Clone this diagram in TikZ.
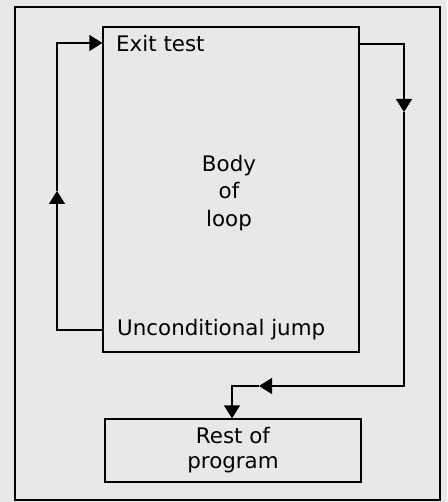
\documentclass[tikz,border=0pt]{standalone}
\usepackage{fontspec}
\setmainfont{DejaVu Sans}
\usetikzlibrary{arrows.meta,positioning}
\tikzstyle{box} = [rectangle, draw, line width=1.3pt, inner sep=0pt]
\tikzstyle{flow} = [draw, line width=1.3pt]
\tikzstyle{tip} = [-{Triangle[length=13pt,width=16pt]}]

\begin{document}
\begin{tikzpicture}[x=1pt,y=-1pt,font=\fontsize{21.4}{27.5}\selectfont]
  % background and frame
  \fill[black!9] (0,0) rectangle (447,502);
  \draw[line width=1.3pt] (15,7) rectangle (440,500);
  % Place boxes
  \node [box, minimum width=256pt, minimum height=325pt] (body) at (231,189.5) {};
  \node [box, minimum width=256pt, minimum height=63pt] (rest) at (233,450.5) {};
  % Place texts
  \node [anchor=west, inner sep=0pt] (exit) at (116,44) {Exit test};
  \node [align=center, inner sep=0pt] (loop) at (229,193) {Body\\of\\loop};
  \node [anchor=west, inner sep=0pt] (jump) at (117,330) {Unconditional jump};
  \node [align=center, inner sep=0pt, font=\fontsize{21.4}{25}\selectfont] (prog) at (233,450) {Rest of\\program};
  % Draw edges
  \coordinate (a) at (57,330);
  \coordinate (b) at (57,191);
  \coordinate (c) at (57,43);
  \coordinate (d) at (404,44);
  \coordinate (e) at (404,112);
  \coordinate (f) at (404,386);
  \coordinate (g) at (259,386);
  \coordinate (h) at (232,386);
  \draw [flow, tip] (body.west |- a) -- (a) -- (b);
  \draw [flow, tip] (b) -- (c) -- (body.west |- c);
  \draw [flow, tip] (body.east |- d) -- (d) -- (e);
  \draw [flow, tip] (e) -- (f) -- (g);
  \draw [flow, tip] (g) -- (h) -- (h |- rest.north);
\end{tikzpicture}
\end{document}
